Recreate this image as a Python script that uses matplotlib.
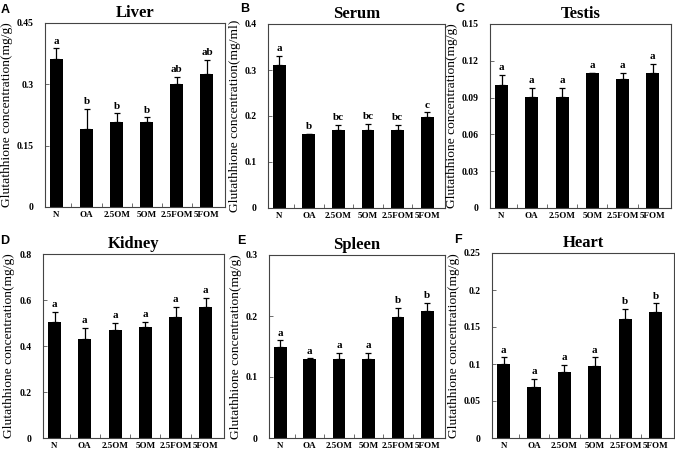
import matplotlib
matplotlib.use("Agg")
import matplotlib.pyplot as plt
import numpy as np

categories = ["N", "OA", "2.5OM", "5OM", "2.5FOM", "5FOM"]

titles = ["Liver", "Serum", "Testis", "Kidney", "Spleen", "Heart"]
panel_letters = ["A", "B", "C", "D", "E", "F"]
ylabels = ["Glutathhione concentration(mg/g)", "Glutathhione concentration(mg/ml)",
           "Glutathhione concentration(mg/g)", "Glutathhione concentration(mg/g)",
           "Glutathhione concentration(mg/g)", "Glutathhione concentration(mg/g)"]

liver_vals = [0.361, 0.190, 0.209, 0.209, 0.300, 0.326]
liver_err = [0.027, 0.050, 0.020, 0.010, 0.018, 0.033]
liver_sig = ["a", "b", "b", "b", "ab", "ab"]
liver_ticks = [0, 0.15, 0.3, 0.45]
liver_ticklabels = ["0", "0.15", "0.3", "0.45"]

serum_vals = [0.310, 0.160, 0.170, 0.170, 0.170, 0.198]
serum_err = [0.021, 0.001, 0.010, 0.013, 0.010, 0.010]
serum_sig = ["a", "b", "bc", "bc", "bc", "c"]
serum_ticks = [0, 0.1, 0.2, 0.3, 0.4]
serum_ticklabels = ["0", "0.1", "0.2", "0.3", "0.4"]

testis_vals = [0.100, 0.0905, 0.0905, 0.110, 0.105, 0.110]
testis_err = [0.0085, 0.0073, 0.0076, 0.0003, 0.005, 0.0072]
testis_sig = ["a", "a", "a", "a", "a", "a"]
testis_ticks = [0, 0.03, 0.06, 0.09, 0.12, 0.15]
testis_ticklabels = ["0", "0.03", "0.06", "0.09", "0.12", "0.15"]

kidney_vals = [0.504, 0.429, 0.470, 0.481, 0.526, 0.568]
kidney_err = [0.044, 0.050, 0.029, 0.023, 0.043, 0.042]
kidney_sig = ["a", "a", "a", "a", "a", "a"]
kidney_ticks = [0, 0.2, 0.4, 0.6, 0.8]
kidney_ticklabels = ["0", "0.2", "0.4", "0.6", "0.8"]

spleen_vals = [0.150, 0.130, 0.130, 0.130, 0.199, 0.208]
spleen_err = [0.010, 0.0005, 0.009, 0.009, 0.014, 0.013]
spleen_sig = ["a", "a", "a", "a", "b", "b"]
spleen_ticks = [0, 0.1, 0.2, 0.3]
spleen_ticklabels = ["0", "0.1", "0.2", "0.3"]

heart_vals = [0.100, 0.069, 0.089, 0.097, 0.161, 0.170]
heart_err = [0.009, 0.011, 0.010, 0.012, 0.014, 0.012]
heart_sig = ["a", "a", "a", "a", "b", "b"]
heart_ticks = [0, 0.05, 0.1, 0.15, 0.2, 0.25]
heart_ticklabels = ["0", "0.05", "0.1", "0.15", "0.2", "0.25"]

panels = [
    (liver_vals, liver_err, liver_sig, liver_ticks, liver_ticklabels),
    (serum_vals, serum_err, serum_sig, serum_ticks, serum_ticklabels),
    (testis_vals, testis_err, testis_sig, testis_ticks, testis_ticklabels),
    (kidney_vals, kidney_err, kidney_sig, kidney_ticks, kidney_ticklabels),
    (spleen_vals, spleen_err, spleen_sig, spleen_ticks, spleen_ticklabels),
    (heart_vals, heart_err, heart_sig, heart_ticks, heart_ticklabels),
]

W, H = 675, 455
fig = plt.figure(figsize=(W / 100, H / 100), dpi=100)

# axes boxes in pixels: left, right, top, bottom
boxes = [
    (45, 225, 23, 207),
    (268, 445, 24, 208),
    (490, 671, 24, 208),
    (43, 224, 254, 438),
    (269, 445, 255, 438),
    (492, 674, 253, 438),
]
letter_pos = [(1, 10), (240, 9), (455, 9), (0, 241), (237, 241), (454, 240)]

serif = "Liberation Serif"
sans = "Liberation Sans"

x = np.arange(len(categories))
for i, (vals, errs, sig, ticks, tlabels) in enumerate(panels):
    l, r, t, b = boxes[i]
    ax = fig.add_axes([l / W, 1 - b / H, (r - l) / W, (b - t) / H])
    ax.bar(x, vals, width=0.43, color="black", zorder=2)
    ax.errorbar(x, vals, yerr=[np.zeros(len(vals)), errs], fmt="none",
                ecolor="black", elinewidth=0.9, capsize=2.5, capthick=0.9, zorder=3)
    ymax = ticks[-1]
    ax.set_ylim(0, ymax)
    ax.set_xlim(-0.38, 5.6)
    ax.set_yticks(ticks)
    ax.set_yticklabels(tlabels, fontfamily=serif, fontweight="bold", fontsize=7)
    ax.set_xticks(x)
    ax.set_xticklabels(categories, fontfamily=serif, fontweight="bold", fontsize=6.5)
    ax.set_xticks(x[:-1] + 0.5, minor=True)
    ax.tick_params(axis="x", which="major", length=0, pad=3)
    ax.tick_params(axis="x", which="minor", direction="in", length=3, width=0.6, color="#555555")
    ax.tick_params(axis="y", which="major", direction="in", length=3, width=0.6, color="#555555", pad=8)
    for s in ax.spines.values():
        s.set_linewidth(0.8)
        s.set_color("#444444")
    for xi, v, e, s in zip(x, vals, errs, sig):
        ax.text(xi, v + e + ymax * 0.015, s, ha="center", va="bottom",
                fontfamily=serif, fontweight="bold", fontsize=8)
    ax.set_title(titles[i], fontfamily=serif, fontweight="bold", fontsize=12, pad=4)
    ax.set_ylabel(ylabels[i], fontfamily=serif, fontsize=9.7, labelpad=3)
    lx, ly = letter_pos[i]
    fig.text(lx / W, 1 - ly / H, panel_letters[i], fontfamily=sans, fontweight="bold",
             fontsize=9, ha="left", va="center")

fig.savefig("out.png", dpi=100)
